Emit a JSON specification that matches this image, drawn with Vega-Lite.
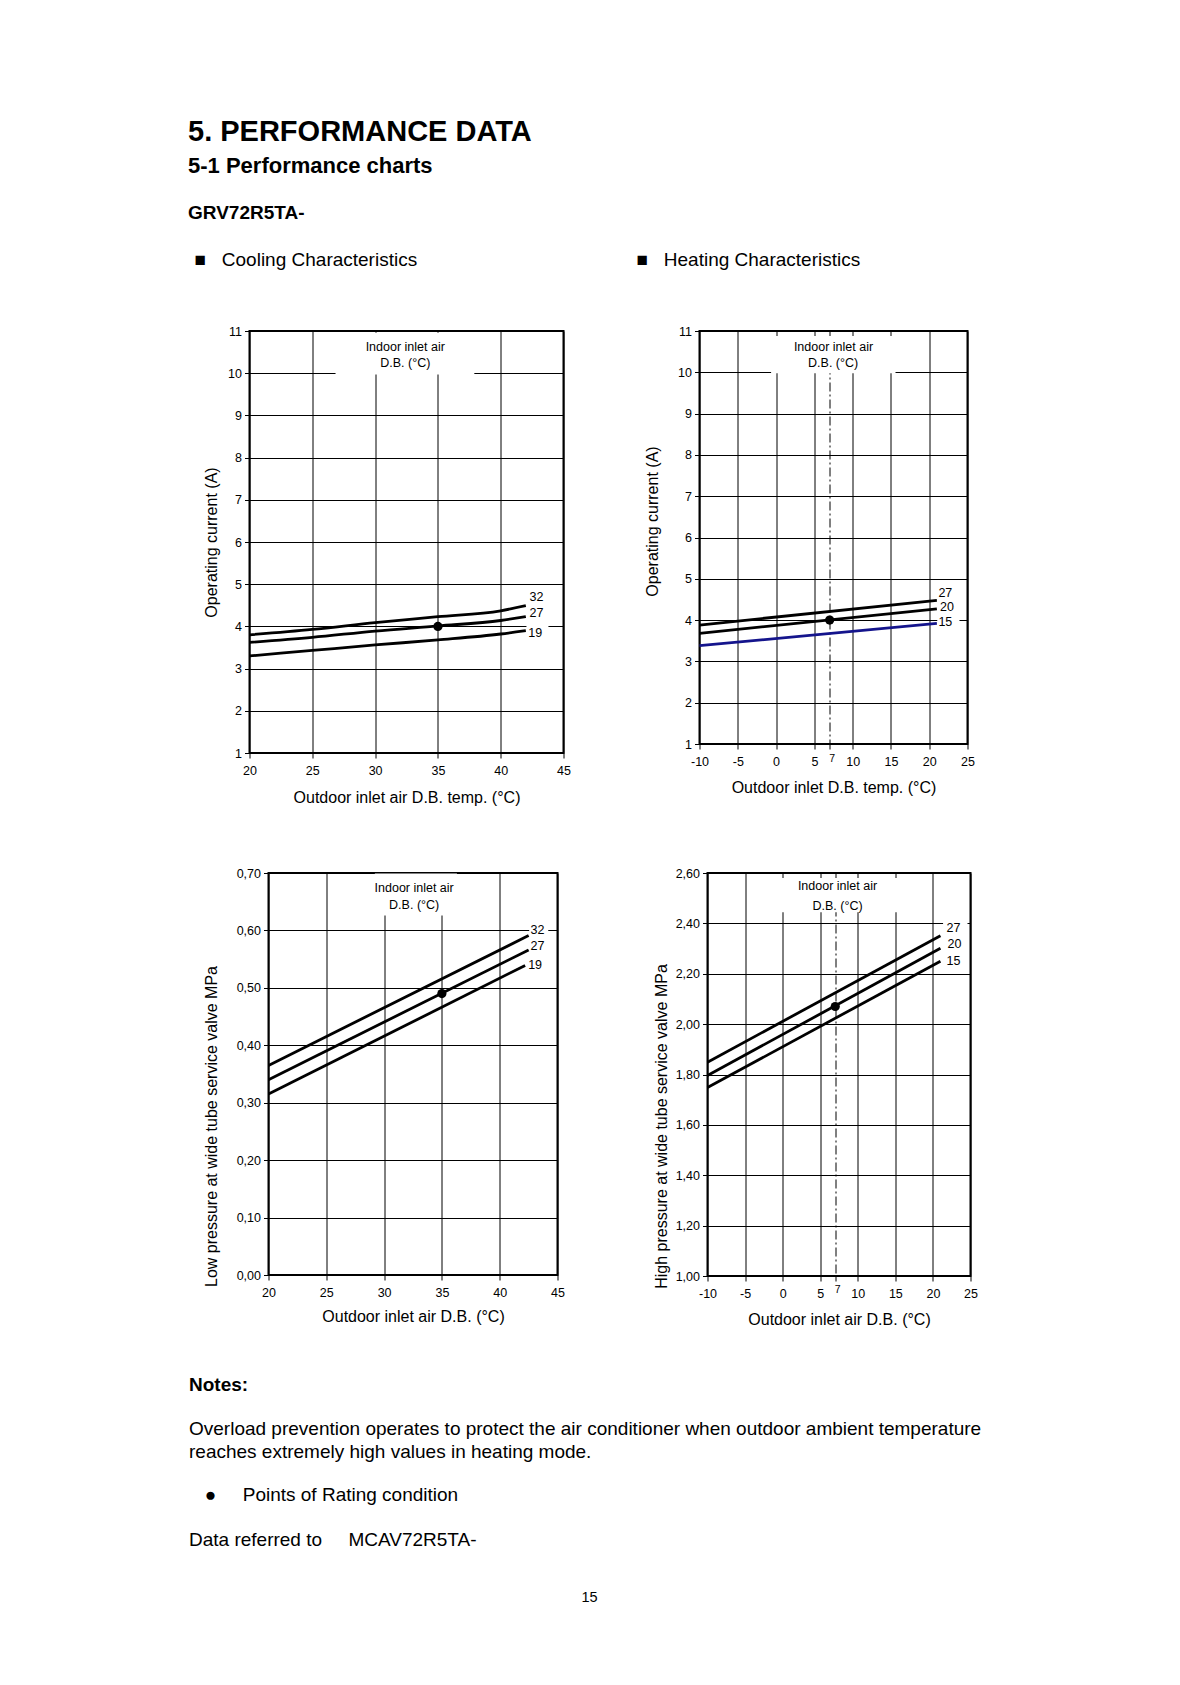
{
  "$schema": "https://vega.github.io/schema/vega-lite/v6.json",
  "padding": {"left": 187.5, "top": 118, "right": 5, "bottom": 5},
  "title": {
    "text": "5. PERFORMANCE DATA",
    "subtitle": "5-1 Performance charts",
    "anchor": "start",
    "fontSize": 29,
    "fontWeight": "bold",
    "subtitleFontSize": 22,
    "subtitleFontWeight": "bold",
    "subtitlePadding": 9,
    "offset": 27
  },
  "config": {
    "font": "Liberation Sans",
    "view": {"stroke": "black", "strokeWidth": 2},
    "axis": {
      "domain": false,
      "grid": true,
      "gridColor": "black",
      "gridOpacity": 1,
      "gridWidth": 1,
      "ticks": true,
      "tickColor": "black",
      "tickSize": 5,
      "tickWidth": 1,
      "labelColor": "black",
      "labelFontSize": 12.5,
      "labelFont": "Liberation Sans",
      "labelOverlap": false,
      "labelFlush": false,
      "titleColor": "black",
      "titleFontSize": 16,
      "titleFontWeight": "normal",
      "titleFont": "Liberation Sans"
    },
    "axisY": {"labelPadding": 3},
    "axisX": {"labelPadding": 6},
    "title": {
      "color": "black",
      "subtitleColor": "black",
      "font": "Liberation Sans",
      "subtitleFont": "Liberation Sans",
      "fontWeight": "normal",
      "anchor": "start"
    },
    "text": {"color": "black", "font": "Liberation Sans"}
  },
  "spacing": 23,
  "vconcat": [
    {
      "spacing": 48,
      "vconcat": [
        {
          "title": {"text": "GRV72R5TA-", "anchor": "start", "dx": -5.5, "fontSize": 19, "fontWeight": "bold", "offset": 27},
          "spacing": 60,
          "vconcat": [
            {
              "spacing": 64,
              "hconcat": [
                {
                  "title": {"text": "■\u00a0\u00a0\u00a0Cooling Characteristics", "anchor": "start", "dx": -9, "fontSize": 19, "offset": 55},
                  "width": 314,
                  "height": 422,
                  "encoding": {
                    "x": {"field": "t", "type": "quantitative", "scale": {"domain": [20, 45], "nice": false, "zero": false},
                      "axis": {"values": [20, 25, 30, 35, 40, 45], "title": "Outdoor inlet air D.B. temp. (°C)", "titleY": 44, "titleBaseline": "middle"}},
                    "y": {"field": "v", "type": "quantitative", "scale": {"domain": [1, 11], "nice": false, "zero": false},
                      "axis": {"values": [1, 2, 3, 4, 5, 6, 7, 8, 9, 10, 11], "format": "d", "title": "Operating current (A)", "titleX": -38, "titleBaseline": "middle"}}
                  },
                  "layer": [
                    {
                      "data": {"values": [
                        {"t": 26.85, "t2": 37.9, "v": 9.97, "v2": 10.96},
                        {"t": 42.05, "t2": 43.8, "v": 3.72, "v2": 4.88}
                      ]},
                      "mark": {"type": "rect", "fill": "white", "strokeWidth": 0},
                      "encoding": {"x2": {"field": "t2"}, "y2": {"field": "v2"}}
                    },
                    {
                      "data": {"values": [
                        {"s": "32", "t": 20, "v": 3.80}, {"s": "32", "t": 25, "v": 3.93}, {"s": "32", "t": 30, "v": 4.09},
                        {"s": "32", "t": 35, "v": 4.23}, {"s": "32", "t": 40, "v": 4.37}, {"s": "32", "t": 42, "v": 4.49},
                        {"s": "27", "t": 20, "v": 3.62}, {"s": "27", "t": 25, "v": 3.74}, {"s": "27", "t": 30, "v": 3.89},
                        {"s": "27", "t": 35, "v": 4.01}, {"s": "27", "t": 40, "v": 4.14}, {"s": "27", "t": 42, "v": 4.23},
                        {"s": "19", "t": 20, "v": 3.30}, {"s": "19", "t": 25, "v": 3.43}, {"s": "19", "t": 30, "v": 3.56},
                        {"s": "19", "t": 35, "v": 3.68}, {"s": "19", "t": 40, "v": 3.82}, {"s": "19", "t": 42, "v": 3.90}
                      ]},
                      "mark": {"type": "line", "strokeWidth": 2.8, "interpolate": "monotone", "color": "black"},
                      "encoding": {"detail": {"field": "s", "type": "nominal"}}
                    },
                    {
                      "data": {"values": [{"t": 35, "v": 4.0}]},
                      "mark": {"type": "circle", "color": "black", "opacity": 1, "size": 85}
                    },
                    {
                      "data": {"values": [
                        {"s": "32", "t": 42.3, "v": 4.70}, {"s": "27", "t": 42.3, "v": 4.32}, {"s": "19", "t": 42.2, "v": 3.84}
                      ]},
                      "mark": {"type": "text", "align": "left", "baseline": "middle", "fontSize": 12.5},
                      "encoding": {"text": {"field": "s", "type": "nominal"}}
                    },
                    {
                      "data": {"values": [
                        {"txt": "Indoor inlet air", "t": 32.4, "v": 10.62}, {"txt": "D.B. (°C)", "t": 32.4, "v": 10.24}
                      ]},
                      "mark": {"type": "text", "align": "center", "baseline": "middle", "fontSize": 12.5},
                      "encoding": {"text": {"field": "txt", "type": "nominal"}}
                    }
                  ]
                },
                {
                  "title": {"text": "■\u00a0\u00a0\u00a0Heating Characteristics", "anchor": "start", "dx": -8, "fontSize": 19, "offset": 55},
                  "width": 268,
                  "height": 413,
                  "encoding": {
                    "x": {"field": "t", "type": "quantitative", "scale": {"domain": [-10, 25], "nice": false, "zero": false},
                      "axis": {
                        "values": [-10, -5, 0, 5, 7, 10, 15, 20, 25],
                        "labelExpr": "'' + datum.value",
                        "title": "Outdoor inlet D.B. temp. (°C)", "titleY": 43, "titleBaseline": "middle",
                        "gridDash": {"condition": {"test": "datum.value === 7", "value": [9, 3, 2, 3]}, "value": []},
                        "labelFontSize": {"condition": {"test": "datum.value === 7", "value": 10.5}, "value": 12.5},
                        "labelPadding": {"condition": {"test": "datum.value === 7", "value": 4}, "value": 6},
                        "labelOffset": {"condition": {"test": "datum.value === 7", "value": 2}, "value": 0}
                      }},
                    "y": {"field": "v", "type": "quantitative", "scale": {"domain": [1, 11], "nice": false, "zero": false},
                      "axis": {"values": [1, 2, 3, 4, 5, 6, 7, 8, 9, 10, 11], "format": "d", "title": "Operating current (A)", "titleX": -47, "titleY": 190, "titleBaseline": "middle"}}
                  },
                  "layer": [
                    {
                      "data": {"values": [
                        {"t": -0.65, "t2": 15.6, "v": 9.975, "v2": 10.88},
                        {"t": 21.05, "t2": 23.95, "v": 3.75, "v2": 4.85}
                      ]},
                      "mark": {"type": "rect", "fill": "white", "strokeWidth": 0},
                      "encoding": {"x2": {"field": "t2"}, "y2": {"field": "v2"}}
                    },
                    {
                      "data": {"values": [
                        {"s": "27", "t": -10, "v": 3.88}, {"s": "27", "t": 21, "v": 4.48},
                        {"s": "20", "t": -10, "v": 3.68}, {"s": "20", "t": 21, "v": 4.27}
                      ]},
                      "mark": {"type": "line", "strokeWidth": 2.8, "color": "black"},
                      "encoding": {"detail": {"field": "s", "type": "nominal"}}
                    },
                    {
                      "data": {"values": [
                        {"s": "15", "t": -10, "v": 3.38}, {"s": "15", "t": 21, "v": 3.92}
                      ]},
                      "mark": {"type": "line", "strokeWidth": 2.8, "color": "#14148c"},
                      "encoding": {"detail": {"field": "s", "type": "nominal"}}
                    },
                    {
                      "data": {"values": [{"t": 7, "v": 4.0}]},
                      "mark": {"type": "circle", "color": "black", "opacity": 1, "size": 85}
                    },
                    {
                      "data": {"values": [
                        {"s": "27", "t": 21.2, "v": 4.66}, {"s": "20", "t": 21.4, "v": 4.32}, {"s": "15", "t": 21.2, "v": 3.96}
                      ]},
                      "mark": {"type": "text", "align": "left", "baseline": "middle", "fontSize": 12.5},
                      "encoding": {"text": {"field": "s", "type": "nominal"}}
                    },
                    {
                      "data": {"values": [
                        {"txt": "Indoor inlet air", "t": 7.5, "v": 10.62}, {"txt": "D.B. (°C)", "t": 7.45, "v": 10.22}
                      ]},
                      "mark": {"type": "text", "align": "center", "baseline": "middle", "fontSize": 12.5},
                      "encoding": {"text": {"field": "txt", "type": "nominal"}}
                    }
                  ]
                }
              ]
            },
            {
              "bounds": "flush",
              "spacing": 18,
              "hconcat": [
                {
                  "width": 1,
                  "height": 1,
                  "view": {"stroke": null},
                  "data": {"values": []},
                  "mark": "point"
                },
                {
                  "spacing": 87,
                  "hconcat": [
                    {
                      "width": 289,
                      "height": 402,
                      "encoding": {
                        "x": {"field": "t", "type": "quantitative", "scale": {"domain": [20, 45], "nice": false, "zero": false},
                          "axis": {"values": [20, 25, 30, 35, 40, 45], "title": "Outdoor inlet air D.B. (°C)", "titleY": 41, "titleBaseline": "middle"}},
                        "y": {"field": "v", "type": "quantitative", "scale": {"domain": [0, 0.7], "nice": false, "zero": false},
                          "axis": {"values": [0, 0.1, 0.2, 0.3, 0.4, 0.5, 0.6, 0.7], "labelExpr": "replace(format(datum.value, '.2f'), '.', ',')", "title": "Low pressure at wide tube service valve MPa", "titleX": -57, "titleY": 253, "titleBaseline": "middle"}}
                      },
                      "layer": [
                        {
                          "data": {"values": [
                            {"t": 29.2, "t2": 36.3, "v": 0.626, "v2": 0.699},
                            {"t": 42.55, "t2": 44.2, "v": 0.525, "v2": 0.615}
                          ]},
                          "mark": {"type": "rect", "fill": "white", "strokeWidth": 0},
                          "encoding": {"x2": {"field": "t2"}, "y2": {"field": "v2"}}
                        },
                        {
                          "data": {"values": [
                            {"s": "32", "t": 20, "v": 0.365}, {"s": "32", "t": 42.5, "v": 0.591},
                            {"s": "27", "t": 20, "v": 0.340}, {"s": "27", "t": 42.5, "v": 0.566},
                            {"s": "19", "t": 20, "v": 0.315}, {"s": "19", "t": 42.2, "v": 0.539}
                          ]},
                          "mark": {"type": "line", "strokeWidth": 2.8, "color": "black"},
                          "encoding": {"detail": {"field": "s", "type": "nominal"}}
                        },
                        {
                          "data": {"values": [{"t": 35, "v": 0.49}]},
                          "mark": {"type": "circle", "color": "black", "opacity": 1, "size": 85}
                        },
                        {
                          "data": {"values": [
                            {"s": "32", "t": 42.66, "v": 0.601}, {"s": "27", "t": 42.66, "v": 0.573}, {"s": "19", "t": 42.46, "v": 0.540}
                          ]},
                          "mark": {"type": "text", "align": "left", "baseline": "middle", "fontSize": 12.5},
                          "encoding": {"text": {"field": "s", "type": "nominal"}}
                        },
                        {
                          "data": {"values": [
                            {"txt": "Indoor inlet air", "t": 32.6, "v": 0.674}, {"txt": "D.B. (°C)", "t": 32.6, "v": 0.644}
                          ]},
                          "mark": {"type": "text", "align": "center", "baseline": "middle", "fontSize": 12.5},
                          "encoding": {"text": {"field": "txt", "type": "nominal"}}
                        }
                      ]
                    },
                    {
                      "width": 263,
                      "height": 403,
                      "encoding": {
                        "x": {"field": "t", "type": "quantitative", "scale": {"domain": [-10, 25], "nice": false, "zero": false},
                          "axis": {
                            "values": [-10, -5, 0, 5, 7, 10, 15, 20, 25],
                            "labelExpr": "'' + datum.value",
                            "title": "Outdoor inlet air D.B. (°C)", "titleY": 43, "titleBaseline": "middle",
                            "gridDash": {"condition": {"test": "datum.value === 7", "value": [9, 3, 2, 3]}, "value": []},
                            "labelFontSize": {"condition": {"test": "datum.value === 7", "value": 10.5}, "value": 12.5},
                            "labelPadding": {"condition": {"test": "datum.value === 7", "value": 3}, "value": 6},
                            "labelOffset": {"condition": {"test": "datum.value === 7", "value": 2}, "value": 0}
                          }},
                        "y": {"field": "v", "type": "quantitative", "scale": {"domain": [1, 2.6], "nice": false, "zero": false},
                          "axis": {"values": [1, 1.2, 1.4, 1.6, 1.8, 2, 2.2, 2.4, 2.6], "labelExpr": "replace(format(datum.value, '.2f'), '.', ',')", "title": "High pressure at wide tube service valve MPa", "titleX": -46, "titleY": 253, "titleBaseline": "middle"}}
                      },
                      "layer": [
                        {
                          "data": {"values": [
                            {"t": -3, "t2": 18, "v": 2.444, "v2": 2.58},
                            {"t": 21.35, "t2": 24.6, "v": 2.22, "v2": 2.42}
                          ]},
                          "mark": {"type": "rect", "fill": "white", "strokeWidth": 0},
                          "encoding": {"x2": {"field": "t2"}, "y2": {"field": "v2"}}
                        },
                        {
                          "data": {"values": [
                            {"s": "27", "t": -10, "v": 1.849}, {"s": "27", "t": 21, "v": 2.351},
                            {"s": "20", "t": -10, "v": 1.796}, {"s": "20", "t": 21, "v": 2.301},
                            {"s": "15", "t": -10, "v": 1.748}, {"s": "15", "t": 21, "v": 2.250}
                          ]},
                          "mark": {"type": "line", "strokeWidth": 2.8, "color": "black"},
                          "encoding": {"detail": {"field": "s", "type": "nominal"}}
                        },
                        {
                          "data": {"values": [{"t": 7, "v": 2.07}]},
                          "mark": {"type": "circle", "color": "black", "opacity": 1, "size": 85}
                        },
                        {
                          "data": {"values": [
                            {"s": "27", "t": 21.8, "v": 2.382}, {"s": "20", "t": 21.94, "v": 2.318}, {"s": "15", "t": 21.8, "v": 2.252}
                          ]},
                          "mark": {"type": "text", "align": "left", "baseline": "middle", "fontSize": 12.5},
                          "encoding": {"text": {"field": "s", "type": "nominal"}}
                        },
                        {
                          "data": {"values": [
                            {"txt": "Indoor inlet air", "t": 7.3, "v": 2.55}, {"txt": "D.B. (°C)", "t": 7.3, "v": 2.47}
                          ]},
                          "mark": {"type": "text", "align": "center", "baseline": "middle", "fontSize": 12.5},
                          "encoding": {"text": {"field": "txt", "type": "nominal"}}
                        }
                      ]
                    }
                  ]
                }
              ]
            }
          ]
        },
        {
          "width": 1,
          "height": 1,
          "view": {"stroke": null},
          "data": {"values": []},
          "mark": "point",
          "title": {
            "text": "Notes:",
            "subtitle": [
              "Overload prevention operates to protect the air conditioner when outdoor ambient temperature",
              "reaches extremely high values in heating mode."
            ],
            "anchor": "start",
            "frame": "group",
            "dx": -60.5,
            "limit": 0,
            "fontSize": 19,
            "fontWeight": "bold",
            "subtitleFontSize": 19,
            "subtitleFontWeight": "normal",
            "subtitleLineHeight": 23,
            "subtitlePadding": 25,
            "offset": 0
          }
        }
      ]
    },
    {
      "width": 680,
      "height": 76,
      "view": {"stroke": null},
      "title": {
        "text": [
          "\u200b\u00a0\u00a0\u00a0●\u00a0\u00a0\u00a0\u00a0\u00a0Points of Rating condition",
          "Data referred to\u00a0\u00a0\u00a0\u00a0\u00a0MCAV72R5TA-"
        ],
        "anchor": "start",
        "frame": "group",
        "dx": -60.5,
        "fontSize": 19,
        "fontWeight": "normal",
        "lineHeight": 45,
        "offset": 10
      },
      "data": {"values": [{"page": "15"}]},
      "mark": {"type": "text", "fontSize": 14.5},
      "encoding": {"text": {"field": "page", "type": "nominal"}}
    }
  ]
}
